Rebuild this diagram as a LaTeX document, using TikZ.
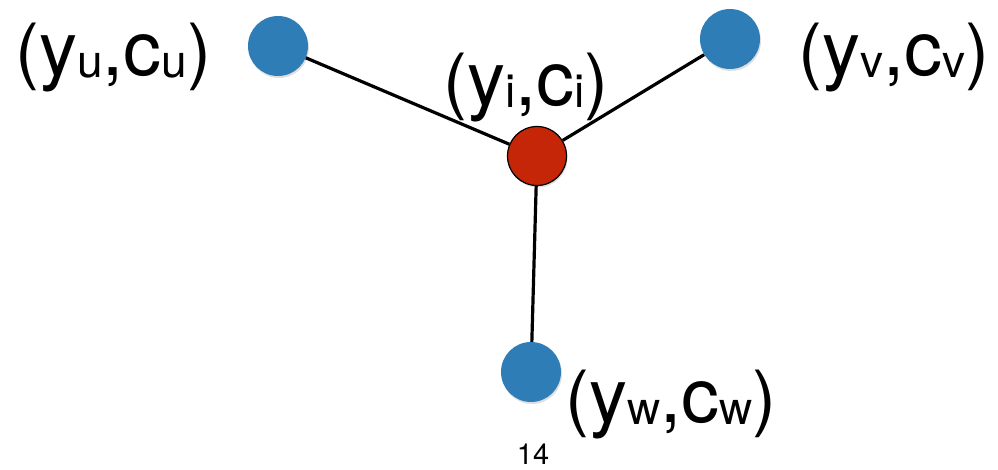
\documentclass[tikz,border=0pt]{standalone}
\usepackage{fontspec}
\setmainfont{TeX Gyre Heros}
\usetikzlibrary{shadows}
\definecolor{nodeblue}{RGB}{46,125,182}
\definecolor{nodered}{RGB}{198,38,8}
\newcommand\Pn[1]{{\fontsize{72}{72}\selectfont #1}}
\newcommand\Lt[1]{{\fontsize{76}{76}\selectfont #1}}
\newcommand\Sb[1]{\raisebox{-2pt}{\fontsize{46}{46}\selectfont #1}}
\newcommand\pairlabel[1]{\Pn{(}\Lt{y}\Sb{#1}\Lt{,c}\Sb{#1}\Pn{)}}
\tikzset{
  leaf/.style={circle, fill=nodeblue, minimum size=60pt, inner sep=0pt,
    drop shadow={shadow xshift=1pt, shadow yshift=-2pt, opacity=0.25}},
  hubnode/.style={circle, fill=nodered, draw=black, line width=1.2pt, minimum size=59pt, inner sep=0pt,
    drop shadow={shadow xshift=1pt, shadow yshift=-2pt, opacity=0.25}},
  linkline/.style={line width=3.2pt, black},
  lbl/.style={inner sep=0pt, anchor=base west},
}
\begin{document}
\begin{tikzpicture}[x=1pt,y=-1pt]
\useasboundingbox (0,0) rectangle (998,470);
\node[leaf] (u) at (278,46) {};
\node[leaf] (v) at (730,39) {};
\node[leaf] (w) at (531,372) {};
\node[hubnode] (i) at (537,156) {};
\draw[linkline] (u) -- (i);
\draw[linkline] (v) -- (i);
\draw[linkline] (i) -- (w);
\node[lbl] (lu) at (15,76) {\pairlabel{u}};
\node[lbl] (li) at (443,106) {\pairlabel{i}};
\node[lbl] (lv) at (798,76) {\pairlabel{v}};
\node[lbl] (lw) at (565,422) {\pairlabel{w}};
\node[inner sep=0pt, anchor=base] (pg) at (533,464) {\fontsize{29}{29}\selectfont 14};
\end{tikzpicture}
\end{document}
